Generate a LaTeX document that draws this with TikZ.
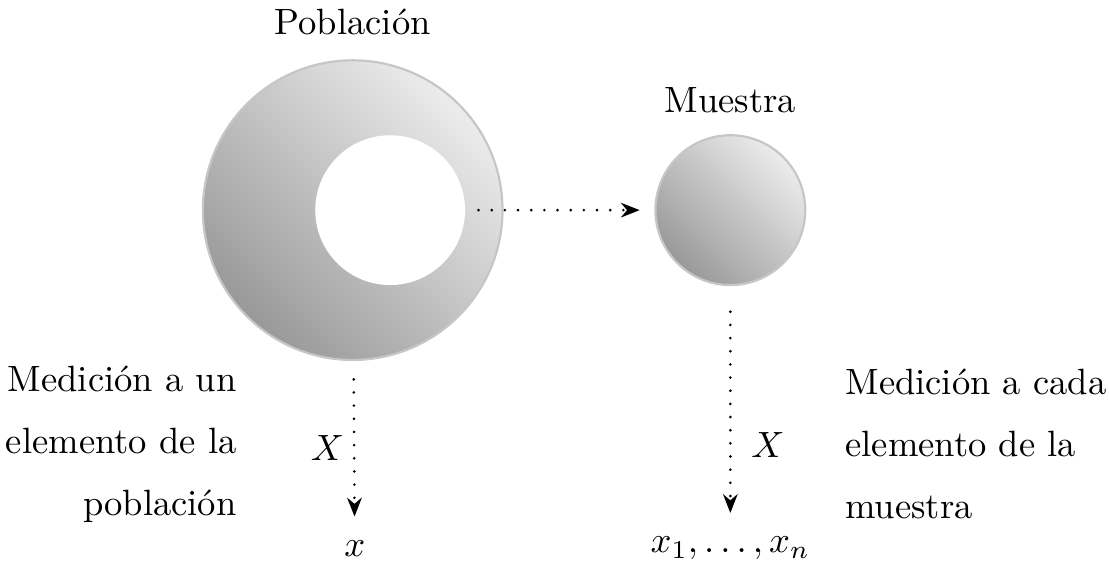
\documentclass[tikz,border=0pt]{standalone}
\usetikzlibrary{arrows.meta,positioning}

\begin{document}
\begin{tikzpicture}[
    conjunto/.style={circle, draw=gray!45, line width=0.6pt, left color=gray!80, right color=gray!15, shading angle=135},
    hueco/.style={circle, fill=white, draw=none},
    etiqueta/.style={font=\normalsize},
    flecha/.style={-{Stealth[length=1.8mm,width=1.4mm]}, line width=0.8pt, line cap=round, dash pattern=on 0pt off 3.6pt}
]
\useasboundingbox (0,0) rectangle (10.66,-5.41);
\node[conjunto, minimum size=2.88cm] (poblacion) at (3.39,-2.02) {};
\node[hueco, minimum size=1.44cm] (interior) at (3.75,-2.02) {};
\node[conjunto, minimum size=1.44cm] (muestra) at (7.02,-2.02) {};
\node[etiqueta] (tpob) at (3.39,-0.21) {Población};
\node[etiqueta] (tmues) at (7.02,-0.96) {Muestra};
\node[etiqueta] (x) at (3.41,-5.27) {$x$};
\node[etiqueta] (xs) at (7.02,-5.27) {$x_1,\ldots,x_n$};
\node[etiqueta, align=right, anchor=east, inner sep=0pt] (medun) at (2.28,-4.27) {Medición a un\\[5pt]elemento de la\\[5pt]población};
\node[etiqueta, align=left, anchor=west, inner sep=0pt] (medcada) at (8.12,-4.27) {Medición a cada\\[5pt]elemento de la\\[5pt]muestra};
\draw[flecha, shorten <=3.5pt, shorten >=4pt] (interior) -- (muestra);
\draw[flecha, shorten <=5pt, shorten >=3pt] (poblacion) -- node[left=-1pt, pos=0.52] {$X$} (x);
\draw[flecha, shorten <=7pt, shorten >=3pt] (muestra) -- node[right=2pt, pos=0.67] {$X$} (xs);
\end{tikzpicture}
\end{document}
